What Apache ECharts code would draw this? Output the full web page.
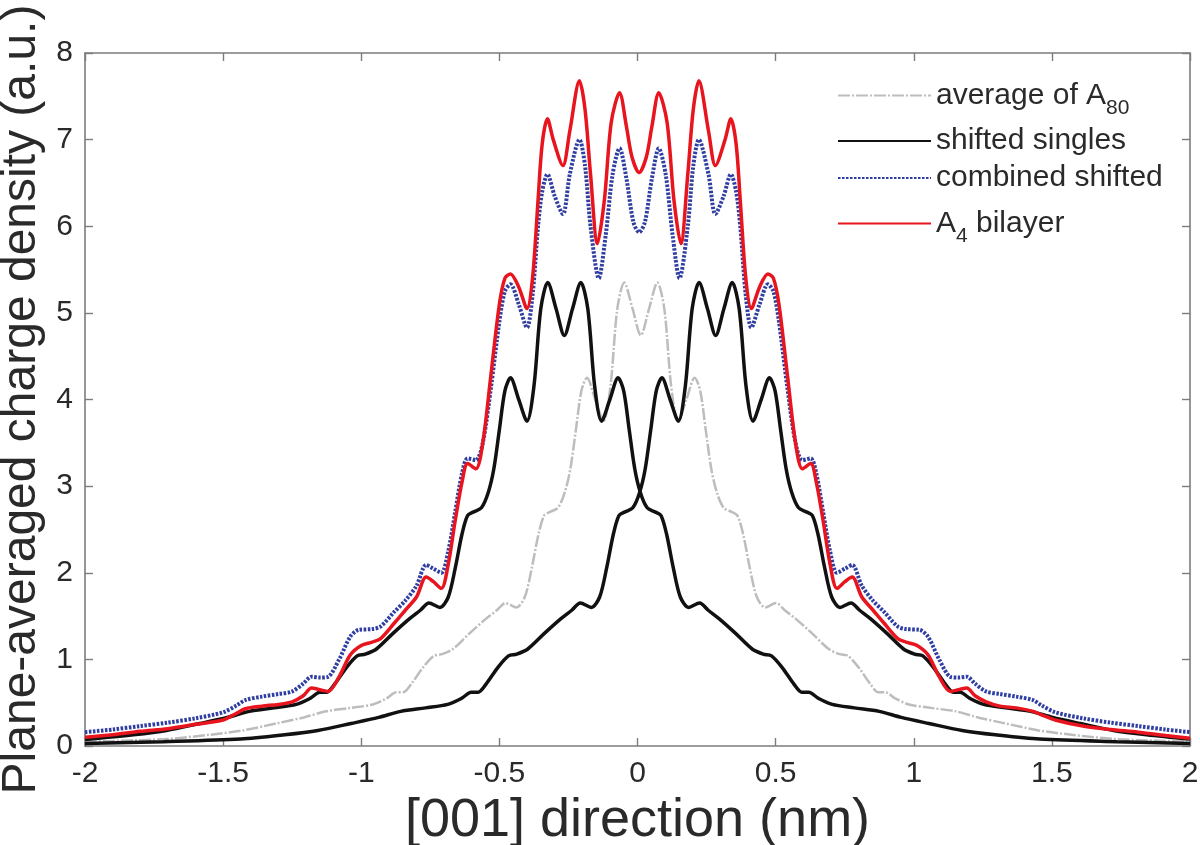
<!DOCTYPE html>
<html>
<head>
<meta charset="utf-8">
<script src="https://cdn.jsdelivr.net/npm/echarts@6/dist/echarts.min.js"></script>
<style>
html,body{margin:0;padding:0;background:#fff;}
#chart{width:1200px;height:845px;}
</style>
</head>
<body>
<div id="chart"></div>
<script>
// ---- data: [x (nm), density (a.u.)] ----
var seriesNames = ['average of A80', 'shifted singles', 'combined shifted', 'A4 bilayer'];

var avgA80 = [
[-2.0,0.05],[-1.708,0.08],[-1.548,0.13],[-1.428,0.18],[-1.308,0.26],[-1.208,0.33],[-1.128,0.40],[-1.038,0.44],[-0.958,0.48],[-0.908,0.55],[-0.873,0.62],[-0.848,0.62],[-0.818,0.72],[-0.778,0.90],[-0.738,1.04],[-0.708,1.06],[-0.668,1.12],[-0.608,1.30],[-0.548,1.47],[-0.508,1.57],[-0.478,1.65],[-0.438,1.60],[-0.408,1.72],[-0.383,2.05],[-0.358,2.45],[-0.338,2.66],[-0.318,2.70],[-0.288,2.75],[-0.263,2.93],[-0.243,3.2],[-0.223,3.65],[-0.203,4.1],[-0.183,4.25],[-0.153,4.0],[-0.123,3.75],[-0.098,4.15],[-0.073,5.05],[-0.048,5.35],[-0.018,5.05],[0.012,4.74],
[0.042,5.05],[0.072,5.35],[0.097,5.05],[0.122,4.15],[0.147,3.75],[0.177,4.0],[0.207,4.25],[0.227,4.1],[0.247,3.65],[0.267,3.2],[0.287,2.93],[0.312,2.75],[0.342,2.70],[0.362,2.66],[0.382,2.45],[0.407,2.05],[0.432,1.72],[0.462,1.60],[0.502,1.65],[0.532,1.57],[0.572,1.47],[0.632,1.30],[0.692,1.12],[0.732,1.06],[0.762,1.04],[0.802,0.90],[0.842,0.72],[0.872,0.62],[0.897,0.62],[0.932,0.55],[0.982,0.48],[1.062,0.44],[1.152,0.40],[1.232,0.33],[1.332,0.26],[1.452,0.18],[1.572,0.13],[1.732,0.08],[2.0,0.05]
];

var shiftedLeft = [
[-2.0,0.075],[-1.825,0.13],[-1.705,0.18],[-1.585,0.26],[-1.485,0.33],[-1.405,0.40],[-1.315,0.44],[-1.235,0.48],[-1.185,0.55],[-1.15,0.62],[-1.125,0.62],[-1.095,0.72],[-1.055,0.90],[-1.015,1.04],[-0.985,1.06],[-0.945,1.12],[-0.885,1.30],[-0.825,1.47],[-0.785,1.57],[-0.755,1.65],[-0.715,1.60],[-0.685,1.72],[-0.66,2.05],[-0.635,2.45],[-0.615,2.66],[-0.595,2.70],[-0.565,2.75],[-0.54,2.93],[-0.52,3.2],[-0.50,3.65],[-0.48,4.1],[-0.46,4.25],[-0.43,4.0],[-0.40,3.75],[-0.375,4.15],[-0.35,5.05],[-0.325,5.35],[-0.295,5.05],[-0.265,4.74],
[-0.235,5.05],[-0.205,5.35],[-0.18,5.05],[-0.155,4.15],[-0.13,3.75],[-0.10,4.0],[-0.07,4.25],[-0.05,4.1],[-0.03,3.65],[-0.01,3.2],[0.01,2.93],[0.035,2.75],[0.065,2.70],[0.085,2.66],[0.105,2.45],[0.13,2.05],[0.155,1.72],[0.185,1.60],[0.225,1.65],[0.255,1.57],[0.295,1.47],[0.355,1.30],[0.415,1.12],[0.455,1.06],[0.485,1.04],[0.525,0.90],[0.565,0.72],[0.595,0.62],[0.62,0.62],[0.655,0.55],[0.705,0.48],[0.785,0.44],[0.875,0.40],[0.955,0.33],[1.055,0.26],[1.175,0.18],[1.295,0.13],[1.455,0.08],[1.735,0.05],[2.0,0.03]
];

var shiftedRight = [
[-2.0,0.03],[-1.717,0.05],[-1.437,0.08],[-1.277,0.13],[-1.157,0.18],[-1.037,0.26],[-0.937,0.33],[-0.857,0.40],[-0.767,0.44],[-0.687,0.48],[-0.637,0.55],[-0.602,0.62],[-0.577,0.62],[-0.547,0.72],[-0.507,0.90],[-0.467,1.04],[-0.437,1.06],[-0.397,1.12],[-0.337,1.30],[-0.277,1.47],[-0.237,1.57],[-0.207,1.65],[-0.167,1.60],[-0.137,1.72],[-0.112,2.05],[-0.087,2.45],[-0.067,2.66],[-0.047,2.70],[-0.017,2.75],[0.008,2.93],[0.028,3.2],[0.048,3.65],[0.068,4.1],[0.088,4.25],[0.118,4.0],[0.148,3.75],[0.173,4.15],[0.198,5.05],[0.223,5.35],[0.253,5.05],[0.283,4.74],
[0.313,5.05],[0.343,5.35],[0.368,5.05],[0.393,4.15],[0.418,3.75],[0.448,4.0],[0.478,4.25],[0.498,4.1],[0.518,3.65],[0.538,3.2],[0.558,2.93],[0.583,2.75],[0.613,2.70],[0.633,2.66],[0.653,2.45],[0.678,2.05],[0.703,1.72],[0.733,1.60],[0.773,1.65],[0.803,1.57],[0.843,1.47],[0.903,1.30],[0.963,1.12],[1.003,1.06],[1.033,1.04],[1.073,0.90],[1.113,0.72],[1.143,0.62],[1.168,0.62],[1.203,0.55],[1.253,0.48],[1.333,0.44],[1.423,0.40],[1.503,0.33],[1.603,0.26],[1.723,0.18],[1.843,0.13],[2.0,0.08]
];

var combinedShifted = [
[-2.0,0.16],[-1.9,0.19],[-1.8,0.23],[-1.7,0.27],[-1.6,0.32],[-1.5,0.39],[-1.45,0.47],[-1.42,0.53],[-1.36,0.57],[-1.3,0.60],[-1.25,0.63],[-1.21,0.72],[-1.18,0.80],[-1.15,0.79],[-1.12,0.80],[-1.08,1.0],[-1.04,1.26],[-1.01,1.34],[-0.96,1.35],[-0.93,1.38],[-0.88,1.55],[-0.84,1.68],[-0.80,1.85],[-0.765,2.09],[-0.74,2.05],[-0.71,2.0],[-0.685,2.25],[-0.66,2.7],[-0.635,3.15],[-0.615,3.32],[-0.585,3.3],[-0.56,3.5],[-0.53,4.15],[-0.50,4.9],[-0.48,5.25],[-0.46,5.33],[-0.43,5.1],[-0.40,4.83],[-0.38,5.2],[-0.36,6.0],[-0.345,6.4],[-0.326,6.6],[-0.30,6.35],[-0.27,6.14],[-0.245,6.6],[-0.21,7.0],[-0.19,6.7],[-0.17,6.0],[-0.14,5.4],[-0.115,5.9],[-0.09,6.6],[-0.065,6.9],[-0.04,6.55],[-0.015,6.05],[0.006,5.93],
[0.027,6.05],[0.052,6.55],[0.077,6.9],[0.102,6.6],[0.127,5.9],[0.152,5.4],[0.182,6.0],[0.202,6.7],[0.222,7.0],[0.257,6.6],[0.282,6.14],[0.312,6.35],[0.338,6.6],[0.357,6.4],[0.372,6.0],[0.392,5.2],[0.412,4.83],[0.442,5.1],[0.472,5.33],[0.492,5.25],[0.512,4.9],[0.542,4.15],[0.572,3.5],[0.597,3.3],[0.627,3.32],[0.647,3.15],[0.672,2.7],[0.697,2.25],[0.722,2.0],[0.752,2.05],[0.777,2.09],[0.812,1.85],[0.852,1.68],[0.892,1.55],[0.942,1.38],[0.972,1.35],[1.022,1.34],[1.052,1.26],[1.092,1.0],[1.132,0.80],[1.162,0.79],[1.192,0.80],[1.222,0.72],[1.262,0.63],[1.312,0.60],[1.372,0.57],[1.432,0.53],[1.462,0.47],[1.512,0.39],[1.612,0.32],[1.712,0.27],[1.812,0.23],[1.912,0.19],[2.0,0.16]
];

var a4Bilayer = [
[-2.0,0.10],[-1.9,0.13],[-1.8,0.17],[-1.7,0.20],[-1.6,0.25],[-1.5,0.30],[-1.45,0.38],[-1.42,0.43],[-1.36,0.46],[-1.3,0.48],[-1.25,0.51],[-1.21,0.58],[-1.18,0.67],[-1.15,0.65],[-1.12,0.63],[-1.08,0.80],[-1.04,1.05],[-1.0,1.16],[-0.96,1.2],[-0.93,1.24],[-0.88,1.42],[-0.84,1.57],[-0.80,1.72],[-0.765,1.95],[-0.74,1.9],[-0.71,1.82],[-0.685,2.1],[-0.66,2.6],[-0.635,3.05],[-0.615,3.26],[-0.585,3.2],[-0.56,3.5],[-0.53,4.3],[-0.50,5.1],[-0.48,5.4],[-0.46,5.45],[-0.43,5.3],[-0.40,5.05],[-0.38,5.4],[-0.36,6.3],[-0.345,6.95],[-0.326,7.24],[-0.305,7.0],[-0.27,6.7],[-0.245,7.1],[-0.21,7.68],[-0.19,7.35],[-0.17,6.6],[-0.145,5.8],[-0.12,6.3],[-0.095,7.2],[-0.065,7.54],[-0.04,7.15],[-0.02,6.8],[0.006,6.62],
[0.032,6.8],[0.052,7.15],[0.077,7.54],[0.107,7.2],[0.132,6.3],[0.157,5.8],[0.182,6.6],[0.202,7.35],[0.222,7.68],[0.257,7.1],[0.282,6.7],[0.317,7.0],[0.338,7.24],[0.357,6.95],[0.372,6.3],[0.392,5.4],[0.412,5.05],[0.442,5.3],[0.472,5.45],[0.492,5.4],[0.512,5.1],[0.542,4.3],[0.572,3.5],[0.597,3.2],[0.627,3.26],[0.647,3.05],[0.672,2.6],[0.697,2.1],[0.722,1.82],[0.752,1.9],[0.777,1.95],[0.812,1.72],[0.852,1.57],[0.892,1.42],[0.942,1.24],[0.972,1.2],[1.012,1.16],[1.052,1.05],[1.092,0.80],[1.132,0.63],[1.162,0.65],[1.192,0.67],[1.222,0.58],[1.262,0.51],[1.312,0.46],[1.372,0.44],[1.432,0.40],[1.462,0.36],[1.512,0.30],[1.612,0.23],[1.712,0.19],[1.812,0.16],[1.912,0.12],[2.0,0.09]
];

var chart = echarts.init(document.getElementById('chart'), null, {renderer: 'canvas'});

var FONT = 'Liberation Sans, Arial, sans-serif';
var AXIS_COLOR = '#7c7c7c';
var LABEL_COLOR = '#2a2a2a';

function axisCommon(extra) {
  var base = {
    axisLine: {show: true, onZero: false, lineStyle: {color: AXIS_COLOR, width: 1.6}},
    axisTick: {show: true, inside: true, length: 8, lineStyle: {color: AXIS_COLOR, width: 1.4}},
    splitLine: {show: false}
  };
  for (var k in extra) base[k] = extra[k];
  return base;
}

var legendFormatter = function (name) {
  if (name === 'average of A80') return '{t|average of A}{s|80}';
  if (name === 'A4 bilayer') return '{t|A}{s|4}{t| bilayer}';
  return '{t|' + name + '}';
};

var option = {
  backgroundColor: '#ffffff',
  animation: false,
  grid: {left: 85, right: 10, top: 53, bottom: 99, containLabel: false, outerBoundsMode: 'none'},
  legend: {
    orient: 'vertical',
    left: 832,
    top: 67,
    itemWidth: 93,
    itemHeight: 14,
    itemGap: 7,
    data: seriesNames,
    formatter: legendFormatter,
    itemStyle: {opacity: 0, borderWidth: 0},
    textStyle: {
      fontFamily: FONT,
      fontSize: 30,
      color: LABEL_COLOR,
      rich: {
        t: {fontFamily: FONT, fontSize: 30, color: LABEL_COLOR, lineHeight: 34},
        s: {fontFamily: FONT, fontSize: 21, color: LABEL_COLOR, lineHeight: 21, padding: [26, 0, 0, 0]}
      }
    }
  },
  xAxis: [
    axisCommon({
      type: 'value', position: 'bottom', min: -2, max: 2, interval: 0.5,
      name: '[001] direction (nm)', nameLocation: 'middle', nameGap: 46,
      nameTextStyle: {fontFamily: FONT, fontSize: 54, color: LABEL_COLOR},
      axisLabel: {show: true, margin: 13, fontFamily: FONT, fontSize: 30, color: LABEL_COLOR}
    }),
    axisCommon({
      type: 'value', position: 'top', min: -2, max: 2, interval: 0.5,
      axisLabel: {show: false}
    })
  ],
  yAxis: [
    axisCommon({
      type: 'value', position: 'left', min: 0, max: 8, interval: 1,
      name: 'Plane-averaged charge density (a.u.)', nameLocation: 'middle', nameGap: 29,
      nameTextStyle: {fontFamily: FONT, fontSize: 48, color: LABEL_COLOR},
      axisLabel: {show: true, margin: 12, fontFamily: FONT, fontSize: 30, color: LABEL_COLOR}
    }),
    axisCommon({
      type: 'value', position: 'right', min: 0, max: 8, interval: 1,
      axisLabel: {show: false}
    })
  ],
  series: [
    {
      name: 'average of A80', type: 'line', data: avgA80, smooth: 0.3, symbol: 'none',
      xAxisIndex: 0, yAxisIndex: 0,
      lineStyle: {color: '#bdbdbd', width: 2.5, type: [12, 2, 2, 2]},
      itemStyle: {color: '#bdbdbd'}, z: 2
    },
    {
      name: 'shifted singles', type: 'line', data: shiftedLeft, smooth: 0.3, symbol: 'none',
      xAxisIndex: 0, yAxisIndex: 0,
      lineStyle: {color: '#111111', width: 3.5},
      itemStyle: {color: '#111111'}, z: 3
    },
    {
      name: 'shifted singles', type: 'line', data: shiftedRight, smooth: 0.3, symbol: 'none',
      xAxisIndex: 0, yAxisIndex: 0,
      lineStyle: {color: '#111111', width: 3.5},
      itemStyle: {color: '#111111'}, z: 3
    },
    {
      name: 'combined shifted', type: 'line', data: combinedShifted, smooth: 0.3, symbol: 'none',
      xAxisIndex: 0, yAxisIndex: 0,
      lineStyle: {color: '#2f3ea2', width: 4, type: [2.5, 1.5]},
      itemStyle: {color: '#2f3ea2'}, z: 4
    },
    {
      name: 'A4 bilayer', type: 'line', data: a4Bilayer, smooth: 0.3, symbol: 'none',
      xAxisIndex: 0, yAxisIndex: 0,
      lineStyle: {color: '#e8141e', width: 3.5},
      itemStyle: {color: '#e8141e'}, z: 5
    }
  ]
};

chart.setOption(option);
</script>
</body>
</html>
